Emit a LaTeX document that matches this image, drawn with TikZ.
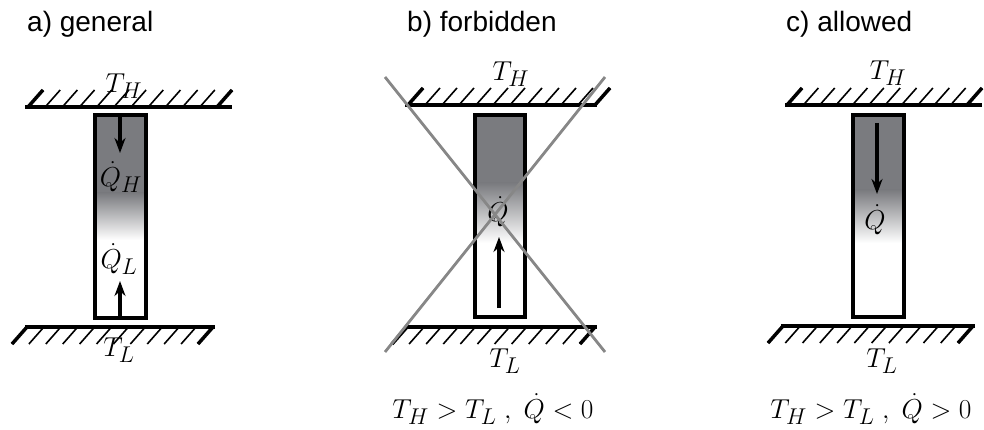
\documentclass[tikz,border=0pt]{standalone}
\usepackage{graphicx}
\usepackage{fontspec}
\newfontfamily\titlefont{Liberation Sans}
\usetikzlibrary{arrows.meta}
\definecolor{fillgray}{RGB}{122,123,127}
\definecolor{crossgray}{RGB}{135,135,135}
\tikzset{
 wallline/.style={line width=3.5pt},
 hatch/.style={line width=1.6pt},
 endhatch/.style={line width=3.5pt},
 frame/.style={line width=4.2pt},
 flow/.style={line width=3.2pt,-{Stealth[length=15pt,width=11pt]}},
 mathlbl/.style={font=\Huge, inner sep=0pt},
 title/.style={font=\titlefont\fontsize{28}{32}\selectfont, anchor=base west, inner sep=0pt},
 crossline/.style={crossgray,line width=2.8pt}
}
\newcommand\mth[1]{\scalebox{1.1}{$#1$}}
\newcommand\topwall[5]{%
 \draw[wallline] (#1,#3) -- (#2,#3);
 \foreach \i in {0,...,11}{\draw[hatch] ({#4+\i*(#5-#4)/11},#3) -- ++(15,-17);}
 \draw[endhatch] (#4,#3) -- ++(15,-17);
 \draw[endhatch] (#5,#3) -- ++(15,-17);
}
\newcommand\botwall[5]{%
 \draw[wallline] (#1,#3) -- (#2,#3);
 \foreach \i in {0,...,11}{\draw[hatch] ({#4+\i*(#5-#4)/11},#3) -- ++(-15,17);}
 \draw[endhatch] (#4,#3) -- ++(-15,17);
 \draw[endhatch] (#5,#3) -- ++(-15,17);
}
\begin{document}
\begin{tikzpicture}[x=1pt,y=-1pt]
\useasboundingbox (0,0) rectangle (984,430);
% titles
\node[title] (ta) at (27,32) {a) general};
\node[title] (tb) at (407,32) {b) forbidden};
\node[title] (tc) at (786,32) {c) allowed};

% ---------- panel a ----------
\fill[fillgray] (95,115) rectangle (146,193);
\shade[top color=fillgray,bottom color=white] (95,193) rectangle (146,240);
\draw[frame] (95,115) rectangle (146,318);
\topwall{25}{232}{107}{28}{217}
\botwall{25}{215}{327}{27}{213}
\coordinate (a1) at (120,115); \coordinate (a2) at (120,153);
\coordinate (a3) at (120,318); \coordinate (a4) at (120,281);
\draw[flow] (a1) -- (a2);
\draw[flow] (a3) -- (a4);
\node[mathlbl] (aTH) at (124,86) {\mth{T_H}};
\node[mathlbl] (aQH) at (121,177) {\mth{\dot{Q}_H}};
\node[mathlbl] (aQL) at (119,259) {\mth{\dot{Q}_L}};
\node[mathlbl] (aTL) at (119,350) {\mth{T_L}};

% ---------- panel b ----------
\fill[fillgray] (475,115) rectangle (525,183);
\shade[top color=fillgray,bottom color=white] (475,183) rectangle (525,243);
\draw[frame] (475,115) rectangle (525,317);
\topwall{405}{597}{105}{408}{595}
\botwall{405}{597}{327}{407}{595}
\coordinate (b1) at (499,308); \coordinate (b2) at (499,237);
\draw[flow] (b1) -- (b2);
\node[mathlbl] (bTH) at (511,74) {\mth{T_H}};
\node[mathlbl] (bQ) at (498,212) {\mth{\dot{Q}}};
\node[mathlbl] (bTL) at (505,361) {\mth{T_L}};
\node[mathlbl] (bF) at (493,409) {\mth{T_H>T_L\;,\;\dot{Q}<0}};
\coordinate (x1) at (385,77); \coordinate (x2) at (605,352);
\coordinate (x3) at (385,352); \coordinate (x4) at (605,77);
\draw[crossline] (x1) -- (x2);
\draw[crossline] (x3) -- (x4);

% ---------- panel c ----------
\fill[fillgray] (853,115) rectangle (904,190);
\shade[top color=fillgray,bottom color=white] (853,190) rectangle (904,243);
\draw[frame] (853,115) rectangle (904,317);
\topwall{785}{982}{105}{787}{967}
\botwall{781}{975}{326}{783}{973}
\coordinate (c1) at (877,123); \coordinate (c2) at (877,194);
\draw[flow] (c1) -- (c2);
\node[mathlbl] (cTH) at (888,73) {\mth{T_H}};
\node[mathlbl] (cQ) at (875,220) {\mth{\dot{Q}}};
\node[mathlbl] (cTL) at (882,361) {\mth{T_L}};
\node[mathlbl] (cF) at (871,409) {\mth{T_H>T_L\;,\;\dot{Q}>0}};
\end{tikzpicture}
\end{document}
